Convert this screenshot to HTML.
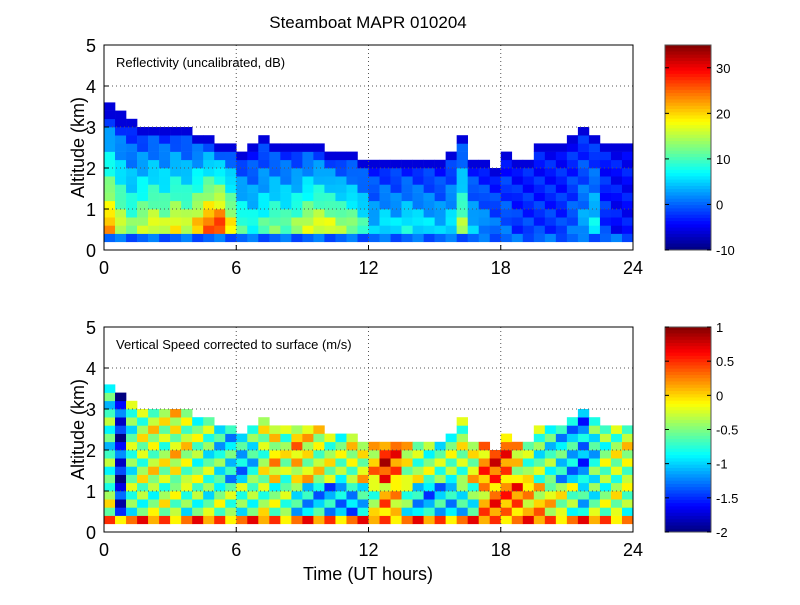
<!DOCTYPE html>
<html><head><meta charset="utf-8"><style>
body{margin:0;background:#fff;font-family:"Liberation Sans",sans-serif}
svg text{font-family:"Liberation Sans",sans-serif}
</style></head><body>
<svg id="c" width="800" height="600" xmlns="http://www.w3.org/2000/svg"></svg>
<script>
const times=[0,0.5,1,1.5,2,2.5,3,3.5,4,4.5,5,5.5,6,6.5,7,7.5,8,8.5,9,9.5,10,10.5,11,11.5,12,12.5,13,13.5,14,14.5,15,15.5,16,16.5,17,17.5,18,18.5,19,19.5,20,20.5,21,21.5,22,22.5,23,23.5];
const cloudTop=[3.5,3.3,3.1,3.0,3.0,3.0,3.0,2.9,2.8,2.8,2.6,2.6,2.4,2.5,2.7,2.6,2.6,2.5,2.6,2.6,2.4,2.3,2.3,2.2,2.2,2.1,2.1,2.1,2.1,2.1,2.1,2.3,2.8,2.2,2.1,2.0,2.4,2.2,2.2,2.5,2.5,2.6,2.8,3.0,2.7,2.6,2.5,2.5];
const lowDbz=[22,16,12,15,17,15,18,16,20,25,27,18,10,8,10,12,11,13,16,17,16,14,13,9,4,6,5,7,6,5,4,6,14,4,2,0,0,-2,-2,-2,-2,-2,0,3,6,-2,-4,-4];
const velLow=[-0.4,-1.7,-0.6,-0.5,-0.5,-0.4,-0.5,-0.6,-0.5,-0.6,-0.5,-0.6,-0.6,-0.5,-0.4,-0.5,-0.6,-0.8,-0.9,-1.0,-1.1,-1.2,-1.1,-0.8,-0.4,0.1,-0.1,-0.6,-0.9,-1.1,-1.0,-1.1,-0.8,-0.6,0.1,0.3,0.2,0.3,0.1,0.0,-0.2,-0.4,-0.5,-0.8,-0.6,-0.5,-0.4,-0.5];
const velHigh=[-0.7,-1.6,-0.6,-0.4,-0.3,-0.4,-0.2,-0.3,-0.5,-0.6,-0.8,-0.9,-1.0,-0.8,-0.4,-0.1,-0.4,0.0,-0.2,-0.3,-0.4,-0.5,-0.3,-0.2,0.0,0.5,0.3,-0.2,-0.4,-0.5,-0.6,-0.5,-0.4,-0.2,0.2,0.4,0.3,-0.1,-0.4,-0.6,-0.7,-0.9,-1.0,-1.2,-0.8,-0.5,-0.4,-0.3];
const xTicks=[0,6,12,18,24];
const yTicks=[0,1,2,3,4,5];
const refTicks=[-10,0,10,20,30];
const velTicks=[-2,-1.5,-1,-0.5,0,0.5,1];
const NS="http://www.w3.org/2000/svg",svg=document.getElementById('c');
function el(t,a,p){const e=document.createElementNS(NS,t);for(const k in a)e.setAttribute(k,a[k]);(p||svg).appendChild(e);return e;}
function jet(v){v=Math.max(0,Math.min(1,v));const f=x=>Math.round(255*Math.max(0,Math.min(1,x)));return `rgb(${f(1.5-Math.abs(4*v-3))},${f(1.5-Math.abs(4*v-2))},${f(1.5-Math.abs(4*v-1))})`;}
const X0=104,X1=633;
function xs(t){return X0+(X1-X0)*t/24;}
function panel(top,bot,title,name,vfun,vmin,vmax,ticks,cbName){
  const ys=h=>bot-(bot-top)*h/5;
  const g=el('g',{},svg);
  times.forEach((t,i)=>{
    for(let h=0.2;h<cloudTop[i]-0.001;h+=0.2){
      const v=vfun(i,h);
      const r=el('rect',{x:xs(t),y:ys(h+0.2),width:xs(t+0.5)-xs(t)+0.3,height:ys(h)-ys(h+0.2)+0.3,fill:jet((v-vmin)/(vmax-vmin))},g);
      
      
    }
  });
  xTicks.slice(1,4).forEach(t=>el('line',{x1:xs(t),x2:xs(t),y1:top,y2:bot,stroke:'#555','stroke-dasharray':'1 3','stroke-width':1}));
  yTicks.slice(1,5).forEach(h=>el('line',{x1:X0,x2:X1,y1:ys(h),y2:ys(h),stroke:'#555','stroke-dasharray':'1 3','stroke-width':1}));
  const ax=el('rect',{x:X0,y:top,width:X1-X0,height:bot-top,fill:'none',stroke:'#000'});
  
  xTicks.forEach(t=>{el('line',{x1:xs(t),x2:xs(t),y1:bot,y2:bot-5,stroke:'#000'});
    const tx=el('text',{x:xs(t),y:bot+24,'font-size':18,'text-anchor':'middle'});tx.textContent=t;});
  yTicks.forEach(h=>{el('line',{x1:X0,x2:X0+5,y1:ys(h),y2:ys(h),stroke:'#000'});
    const tx=el('text',{x:X0-8,y:ys(h)+7,'font-size':18,'text-anchor':'end'});tx.textContent=h;});
  const yl=el('text',{x:0,y:0,'font-size':18,'text-anchor':'middle',transform:`translate(84,${(top+bot)/2}) rotate(-90)`});yl.textContent='Altitude (km)';
  
  const lb=el('text',{x:X0+12,y:top+22,'font-size':13});lb.textContent=title;
  
  const cb=el('g',{},svg);
  const CX=665,CW=46,N=64;
  for(let k=0;k<N;k++){el('rect',{x:CX,y:top+(bot-top)*k/N,width:CW,height:(bot-top)/N+0.5,fill:jet(1-(k+0.5)/N)},cb);}
  el('rect',{x:CX,y:top,width:CW,height:bot-top,fill:'none',stroke:'#555'},cb);
  ticks.forEach(v=>{const y=bot-(bot-top)*(v-vmin)/(vmax-vmin);
    el('line',{x1:CX+CW-4,x2:CX+CW,y1:y,y2:y,stroke:'#000'},cb);el('line',{x1:CX,x2:CX+4,y1:y,y2:y,stroke:'#000'},cb);
    const tx=el('text',{x:CX+CW+5,y:y+5,'font-size':13},cb);tx.textContent=v;});
}
panel(45,250,'Reflectivity (uncalibrated, dB)','reflectivity',(i,h)=>{
  const m=((i+Math.round(h*5))%3-1)*1.5;
  if(h<0.3)return 0+m;
  if(h>cloudTop[i]-0.3)return -6;
  const f=Math.pow(Math.max(0,(h-0.6)/(cloudTop[i]-0.6)),0.8);
  return lowDbz[i]-(lowDbz[i]+4)*f+m;},-10,35,refTicks,'reflectivity-colorbar');
panel(327,532,'Vertical Speed corrected to surface (m/s)','vertical-speed',(i,h)=>{
  const m=((i*7+Math.round(h*5)*3)%5-2)*0.2;
  if(h<0.3)return 0.3+m;
  return (h<1.2?velLow[i]:velHigh[i])+m;},-2,1,velTicks,'vertical-speed-colorbar');
const t=el('text',{x:368,y:28,'font-size':17,'text-anchor':'middle'});t.textContent='Steamboat MAPR 010204';

const xt=el('text',{x:368,y:580,'font-size':18,'text-anchor':'middle'});xt.textContent='Time (UT hours)';

</script>
</body></html>
